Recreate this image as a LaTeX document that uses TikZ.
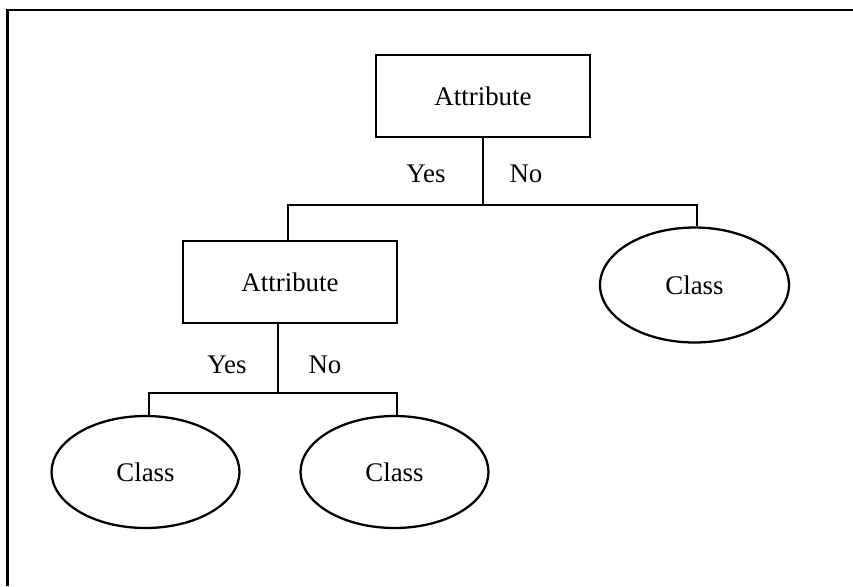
\documentclass[tikz,border=0pt]{standalone}
\usepackage{fontspec}
\setmainfont{Liberation Serif}
\usetikzlibrary{shapes.geometric, positioning}

\begin{document}
\begin{tikzpicture}[x=0.02cm, y=-0.02cm, line width=1.3pt,
    font=\fontsize{15.3}{18}\selectfont,
    attrbox/.style={draw, rectangle, minimum width=4.28cm, minimum height=1.64cm},
    classell/.style={draw, ellipse, inner sep=0pt, minimum width=3.78cm, minimum height=2.3cm}]
\useasboundingbox (0,0) rectangle (853,586);
\draw (7.5,586) |- (853,10);
%
\node[attrbox] (attr top) at (483,96) {Attribute};
\node[attrbox] (attr low) at (290,282) {Attribute};
\node[classell] (class right) at (694.5,285) {Class};
\node[classell, minimum width=3.76cm, minimum height=2.24cm] (class left) at (145.5,472) {Class};
\node[classell, minimum width=3.76cm, minimum height=2.24cm] (class mid) at (394.5,472) {Class};
%
\coordinate (split top) at (483,205);
\coordinate (split low) at (278,393);
\draw (attr top) -- (split top);
\draw ([xshift=-0.04cm]attr low.north) |- (split top) -| ([xshift=0.05cm]class right.north);
\draw (attr low.south -| split low) -- (split low);
\draw ([xshift=0.07cm]class left.north) |- (split low) -| ([xshift=0.05cm]class mid.north);
%
\node (yes top) at (426,174) {Yes};
\node (no top) at (526,174) {No};
\node (yes low) at (227,365) {Yes};
\node (no low) at (325,365) {No};
\end{tikzpicture}
\end{document}
